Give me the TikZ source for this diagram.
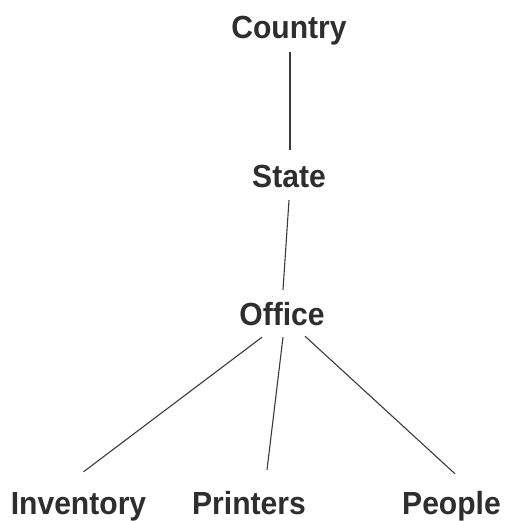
\documentclass[tikz,border=0pt]{standalone}
\usepackage{fontspec}
\newfontfamily\lblfont{Liberation Sans}[FakeStretch=0.94]
\definecolor{txt}{HTML}{2E2E2E}
\definecolor{ln}{HTML}{3A3A3A}
\begin{document}
\begin{tikzpicture}[x=1pt,y=-1pt,
  lbl/.style={anchor=base,inner sep=0pt,text height=24pt,text depth=7pt,
    font=\lblfont\bfseries\fontsize{32}{36}\selectfont,text=txt},
  conn/.style={draw=ln,line width=1.1pt}]
\useasboundingbox (0,0) rectangle (507,521);
\node[lbl] (country) at (289,39) {Country};
\node[lbl] (state) at (289,188) {State};
\node[lbl] (office) at (282,325) {Office};
\node[lbl] (inv) at (78.5,514) {Inventory};
\node[lbl] (prn) at (249,514) {Printers};
\node[lbl] (ppl) at (451.5,514) {People};
\draw[conn] ([xshift=1pt,yshift=-6pt]country.south) -- ([xshift=1pt,yshift=14pt]state.north);
\draw[conn] ([xshift=0pt,yshift=-5pt]state.south) -- ([xshift=1pt,yshift=11pt]office.north);
\draw[conn] ([xshift=-20pt,yshift=-5pt]office.south) -- ([xshift=5pt,yshift=18pt]inv.north);
\draw[conn] ([xshift=1pt,yshift=-5pt]office.south) -- ([xshift=18pt,yshift=20pt]prn.north);
\draw[conn] ([xshift=23pt,yshift=-4pt]office.south) -- ([xshift=3.5pt,yshift=16pt]ppl.north);
\end{tikzpicture}
\end{document}
